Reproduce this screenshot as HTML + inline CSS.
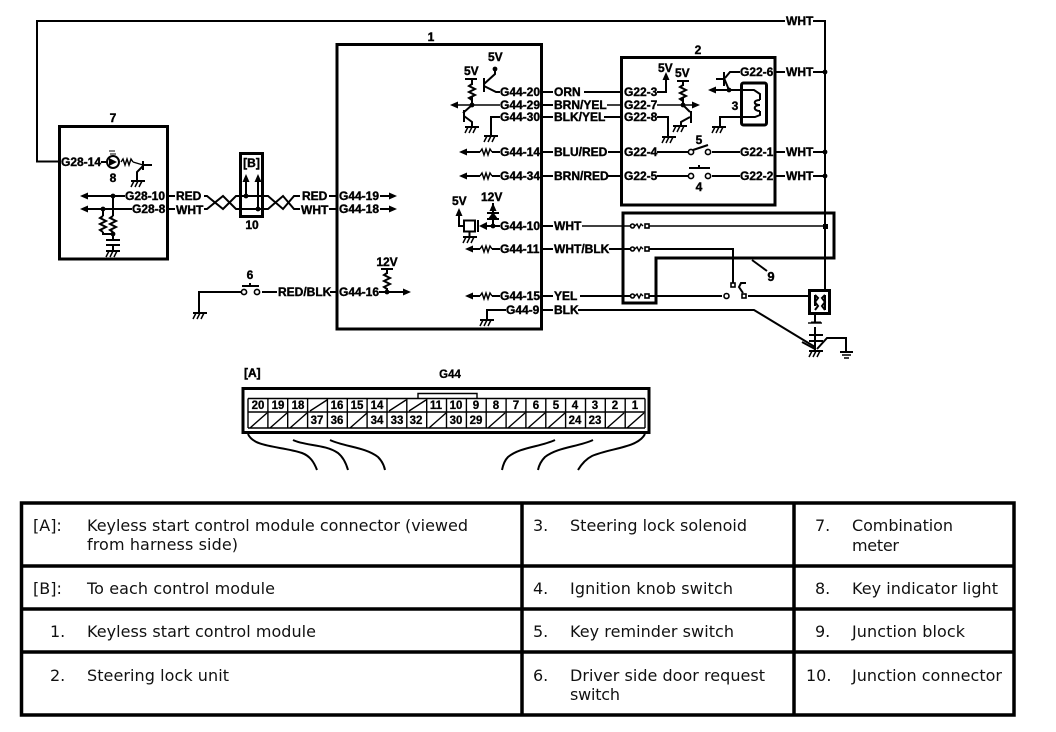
<!DOCTYPE html>
<html><head><meta charset="utf-8"><style>
html,body{margin:0;padding:0;background:#fff}
svg{display:block}
.t{font:bold 12px "Liberation Sans",sans-serif;fill:#000;stroke:#000;stroke-width:.4}
.s{font:bold 11.5px "Liberation Sans",sans-serif;fill:#000;stroke:#000;stroke-width:.3}
.d{font:16px "DejaVu Sans",sans-serif;fill:#111}
.w{fill:none;stroke:#000;stroke-width:2}
.n{fill:none;stroke:#000;stroke-width:1.4}
.b{fill:none;stroke:#000;stroke-width:3}
.o{fill:#fff;stroke:#000;stroke-width:1.6}
</style></head><body>
<svg width="1056" height="732" viewBox="0 0 1056 732" xmlns="http://www.w3.org/2000/svg">
<defs>
<g id="gnd" fill="none" stroke="#000" stroke-width="1.5"><path d="M-6 0H8" stroke-width="2"/><path d="M-3 0L-6 6M1 0L-2 6M5 0L2 6"/></g>
<polygon id="al" points="0,0 8,-3.5 8,3.5"/>
<polygon id="ar" points="0,0 -8,-3.5 -8,3.5"/>
<polygon id="au" points="0,0 -3.5,8 3.5,8"/>
<path id="rv" d="M0 0L-3 2L3 5L-3 8L3 11L-3 14L0 16" fill="none" stroke="#000" stroke-width="2"/>
<path id="rh" d="M0 0L2 -3L4 3L6 -3L8 3L10 -3L12 0" fill="none" stroke="#000" stroke-width="1.4"/>
<circle id="dot" r="2.4" fill="#000"/>
<path id="fl" d="M0 0L2 -2L4 2L6 -2L8 0" fill="none" stroke="#000" stroke-width="1.4"/>
</defs>

<!-- top WHT loop -->
<path class="w" d="M59 161.5H37V21H785M813 21H825V290"/>
<text class="t" x="786" y="25">WHT</text>

<!-- box 7 -->
<rect class="b" x="59.5" y="126.5" width="108" height="132.5"/>
<text class="t" x="113" y="122" text-anchor="middle">7</text>
<text class="t" x="61" y="166">G28-14</text>
<path class="w" d="M101 162H108"/>
<circle cx="113" cy="162" r="6" fill="none" stroke="#000" stroke-width="2"/>
<path d="M109 158L117 162L109 166Z" fill="#000"/>
<path d="M109 151L115 151M110 154L116 154" stroke="#000" stroke-width="1"/>
<use href="#rh" x="121" y="162"/>
<path class="n" d="M133 162L143 165"/>
<path class="w" d="M143 161V170M143 165H152M143 166L137 172V181"/>
<use href="#gnd" x="137" y="181"/>
<text class="t" x="113" y="182" text-anchor="middle">8</text>
<path class="w" d="M88 196H125M88 209H132"/>
<use href="#al" x="80" y="196"/><use href="#al" x="80" y="209"/>
<text class="t" x="125" y="200">G28-10</text>
<text class="t" x="132" y="213">G28-8</text>
<use href="#dot" x="113" y="196"/><use href="#dot" x="103" y="209"/>
<path class="w" d="M113 196V216M113 232V240M103 209V216M103 232V234H113"/>
<use href="#rv" x="113" y="216"/><use href="#rv" x="103" y="216"/>
<use href="#dot" x="113" y="234"/>
<path class="w" d="M106 240H120M106 245H120M113 245V251"/>
<use href="#gnd" x="112" y="251"/>

<path class="w" d="M168 196H175M168 209H175"/>
<text class="t" x="176" y="200">RED</text>
<text class="t" x="176" y="214">WHT</text>

<!-- twisted pair -->
<path class="w" stroke-width="1.6" d="M204 196H207L223 209L236 196H263M204 209H207L223 196L236 209H263"/>
<path class="w" stroke-width="1.6" d="M263 196H268L283 209L294 196H300M263 209H268L283 196L294 209H300"/>
<rect class="b" x="240.5" y="153.5" width="22" height="63"/>
<text class="t" x="251.500" y="167" text-anchor="middle">[B]</text>
<path class="w" d="M246 196V181M258 209V181"/>
<use href="#au" x="246" y="174"/><use href="#au" x="258" y="174"/>
<use href="#dot" x="246" y="196"/><use href="#dot" x="258" y="209"/>
<text class="t" x="252" y="229" text-anchor="middle">10</text>
<text class="t" x="302" y="200">RED</text>
<text class="t" x="301" y="214">WHT</text>
<path class="w" d="M329 196H337M329 209H337"/>

<!-- box 1 -->
<rect class="b" x="337" y="44.5" width="204.500" height="284.500"/>
<text class="t" x="431" y="41" text-anchor="middle">1</text>
<text class="t" x="339" y="200">G44-19</text>
<text class="t" x="339" y="213">G44-18</text>
<path class="w" d="M380 196H392M380 209H392"/>
<use href="#ar" x="397" y="196"/><use href="#ar" x="397" y="209"/>
<text class="t" x="339" y="296">G44-16</text>
<path class="w" d="M330 292H337M379 292H404"/>
<use href="#ar" x="411" y="292"/>
<use href="#dot" x="387" y="292"/>
<text class="t" x="387" y="266" text-anchor="middle">12V</text>
<path class="w" d="M381 269H393M387 269V274M387 288V292"/>
<use href="#rv" x="387" y="273"/>

<!-- switch 6 -->
<text class="t" x="250" y="279" text-anchor="middle">6</text>
<path class="w" d="M242 286H259M250 286V283M241 292H199V313M262 292H277"/>
<circle class="o" cx="244" cy="292" r="2.600"/><circle class="o" cx="257" cy="292" r="2.600"/>
<use href="#gnd" x="199" y="313"/>
<text class="t" x="278" y="296">RED/BLK</text>

<!-- box 1 internals top -->
<text class="t" x="488" y="61">5V</text>
<use href="#dot" x="495" y="69"/>
<path class="w" d="M495 68V74L484 84M484 78V92M484 86L496 92H500"/>
<text class="t" x="464" y="75">5V</text>
<path class="w" d="M465 79H477M472 79V85M472 97V104"/>
<use href="#rv" x="472" y="84"/>
<path class="n" d="M457 105H500"/>
<use href="#al" x="450" y="105"/>
<use href="#dot" x="472" y="105"/>
<path class="w" d="M472 105L463 113M464 110V122M464 116L472 122V127"/>
<use href="#gnd" x="471" y="127"/>
<path class="w" d="M500 117H491V136"/>
<use href="#gnd" x="490" y="136"/>

<text class="t" x="500" y="96">G44-20</text>
<text class="t" x="500" y="109">G44-29</text>
<text class="t" x="500" y="121">G44-30</text>
<text class="t" x="500" y="156">G44-14</text>
<text class="t" x="500" y="180">G44-34</text>
<text class="t" x="500" y="230">G44-10</text>
<text class="t" x="500" y="253">G44-11</text>
<text class="t" x="500" y="300">G44-15</text>
<text class="t" x="506" y="314">G44-9</text>

<path class="w" d="M466 152H480M492 152H500M466 176H480M492 176H500M472 249H480M492 249H500M472 296H480M492 296H500"/>
<use href="#al" x="459" y="152"/><use href="#al" x="459" y="176"/><use href="#al" x="465" y="249"/><use href="#al" x="465" y="296"/>
<use href="#rh" x="480" y="152"/><use href="#rh" x="480" y="176"/><use href="#rh" x="480" y="249"/><use href="#rh" x="480" y="296"/>

<!-- 5V/12V at G44-10 -->
<text class="t" x="452" y="205">5V</text>
<text class="t" x="481" y="201">12V</text>
<use href="#au" x="459" y="208"/>
<path class="w" d="M459 215V226H464"/>
<rect x="464" y="220.500" width="11" height="11" fill="none" stroke="#000" stroke-width="2"/>
<path class="w" d="M469.500 232V237M478 220V232"/>
<use href="#gnd" x="469" y="237"/>
<path d="M479 226L487 222V230Z" fill="#000"/>
<path class="w" d="M487 226H500M493 226V203M487 213H499M487 219H499"/>
<use href="#au" x="493" y="203"/>
<path d="M488 219L493 212L498 219Z" fill="#000"/>
<use href="#dot" x="493" y="226"/>

<path class="w" d="M506 310H487V320"/>
<use href="#gnd" x="486" y="320"/>

<!-- wires between -->
<path class="w" d="M541 92H553M541 105H553M541 117H553M541 152H553M541 176H553M541 226H553M541 249H553M541 296H553M541 310H553"/>
<text class="t" x="554" y="96">ORN</text>
<text class="t" x="554" y="109">BRN/YEL</text>
<text class="t" x="554" y="121">BLK/YEL</text>
<text class="t" x="554" y="156">BLU/RED</text>
<text class="t" x="554" y="180">BRN/RED</text>
<text class="t" x="554" y="230">WHT</text>
<text class="t" x="554" y="253">WHT/BLK</text>
<text class="t" x="554" y="300">YEL</text>
<text class="t" x="554" y="314">BLK</text>
<path class="w" d="M584 92H621M604 117H621M608 152H621M608 176H621M609 249H631M580 296H631M578 310H754L815 347"/>
<path class="n" d="M607 105H621M582 226H631M648 226H825"/>

<!-- box 2 -->
<rect class="b" x="621.500" y="57.500" width="153.500" height="147.500"/>
<text class="t" x="698" y="54" text-anchor="middle">2</text>
<text class="t" x="624" y="96">G22-3</text>
<text class="t" x="624" y="109">G22-7</text>
<text class="t" x="624" y="121">G22-8</text>
<text class="t" x="624" y="156">G22-4</text>
<text class="t" x="624" y="180">G22-5</text>
<text class="t" x="740" y="76">G22-6</text>
<text class="t" x="740" y="156">G22-1</text>
<text class="t" x="740" y="180">G22-2</text>
<text class="t" x="658" y="72">5V</text>
<text class="t" x="675" y="77">5V</text>
<path class="w" d="M657 92H666V79"/>
<use href="#au" x="666" y="72"/>
<path class="w" d="M657 117H668V136"/>
<use href="#gnd" x="668" y="137"/>
<path class="w" d="M677 81H689M683 81V86M683 98V105"/>
<use href="#rv" x="683" y="85"/>
<path class="n" d="M657 105H693"/>
<use href="#ar" x="700" y="105"/>
<use href="#dot" x="683" y="105"/>
<path class="w" d="M683 105L690 112M691 111V123M690 117L681 122V125"/>
<use href="#gnd" x="679" y="126"/>
<path class="w" d="M740 72H730L725 78M716 79H725M724 72V86M724 78L729 90"/>
<path class="w" d="M715 90H741"/>
<use href="#al" x="708" y="90"/>
<use href="#dot" x="729" y="90"/>
<rect x="741.500" y="83" width="25" height="42" rx="2" fill="none" stroke="#000" stroke-width="3"/>
<path class="w" d="M742 90H754L760 94V100M760 111V115L755 117H720V126" stroke-width="1.800"/>
<path class="w" d="M760 100C753 100 753 105 760 105C753 105 753 111 760 111"/>
<use href="#gnd" x="718" y="127"/>
<text class="t" x="735" y="110" text-anchor="middle">3</text>
<text class="t" x="699" y="144" text-anchor="middle">5</text>
<text class="t" x="699" y="191" text-anchor="middle">4</text>
<path class="w" d="M657 152H689M657 176H689M712 152H740M712 176H740"/>
<path class="w" d="M693 150L708 145M689 168H710M699 168V165"/>
<circle class="o" cx="691" cy="152" r="2.600"/><circle class="o" cx="708" cy="152" r="2.600"/>
<circle class="o" cx="691" cy="176" r="2.600"/><circle class="o" cx="708" cy="176" r="2.600"/>

<path class="w" d="M774 72H785M813 72H825M774 152H785M813 152H825M774 176H785M813 176H825"/>
<text class="t" x="786" y="76">WHT</text>
<text class="t" x="786" y="156">WHT</text>
<text class="t" x="786" y="180">WHT</text>
<use href="#dot" x="825" y="72"/><use href="#dot" x="825" y="152"/><use href="#dot" x="825" y="176"/>

<!-- box 9 -->
<path class="b" stroke-width="3.500" d="M623 213H834V258H656V303H623Z"/>
<rect x="823" y="224" width="5" height="5" fill="#000"/>
<use href="#fl" x="635" y="226"/><use href="#fl" x="635" y="249"/><use href="#fl" x="635" y="296"/>
<circle class="o" cx="632.500" cy="226" r="2"/><rect class="o" x="645" y="224" width="4" height="4"/>
<circle class="o" cx="632.500" cy="249" r="2"/><rect class="o" x="645" y="247" width="4" height="4"/>
<circle class="o" cx="632.500" cy="296" r="2"/><rect class="o" x="645" y="294" width="4" height="4"/>
<path class="w" d="M649 249H733V283M649 296H722M748 296H809"/>
<rect class="o" x="731" y="283" width="4" height="4"/>
<circle class="o" cx="726.500" cy="296" r="2.500"/><rect class="o" x="742" y="294" width="4" height="4"/>
<path class="w" d="M746 283H741L739 287L743 293"/>
<path class="w" d="M752 260L767 271"/>
<text class="t" x="771" y="281" text-anchor="middle" style="font-size:13px">9</text>

<!-- fuse -->
<rect x="809.500" y="290.500" width="20" height="23" fill="none" stroke="#000" stroke-width="3"/>
<path class="w" d="M815 295L818 298L815 302L818 306L815 310M825 295L822 298L825 302L822 306L825 310" stroke-width="1.800"/>
<path class="w" d="M815 295V306M825 295V310" stroke-width="1.200"/>
<path class="w" d="M815 314V323M811 322.500H821M815 327V335M809 335H823M815 335V341M809 341H823M815 341V351"/>
<path class="n" d="M808 323H822"/>
<path class="w" d="M817 349L827 338H846V352"/>
<path class="w" d="M802 342L815 349"/>
<use href="#gnd" x="815" y="351"/>
<path class="w" d="M840 352H853"/><path class="n" d="M842 355H851M844 358H849"/>

<!-- connector A -->
<text class="t" x="244" y="377">[A]</text>
<text class="s" x="450" y="378" text-anchor="middle">G44</text>
<rect class="b" x="243" y="388.500" width="406" height="44"/>
<path class="n" d="M418 399V393.500H477V399"/>
<path class="n" d="M248 398.500H645M248 412H645M248 428H645"/>
<path class="n" d="M248 398.500V428M645 398.500V428M267.900 398.500V428M287.700 398.500V428M307.600 398.500V428M327.400 398.500V428M347.300 398.500V428M367.100 398.500V428M387 398.500V428M406.800 398.500V428M426.700 398.500V428M446.500 398.500V428M466.400 398.500V428M486.200 398.500V428M506.100 398.500V428M525.900 398.500V428M545.800 398.500V428M565.600 398.500V428M585.500 398.500V428M605.300 398.500V428M625.200 398.500V428"/>
<path class="n" d="M310 411L327 400M389 411L406 400M409 411L426 400M250 428L267 413M270 428L287 413M290 428L307 413M350 428L367 413M429 428L446 413M488 428L505 413M508 428L525 413M528 428L545 413M548 428L565 413M627 428L644 413M607 428L624 413"/>
<g class="s" text-anchor="middle">
<text x="258" y="409">20</text><text x="278" y="409">19</text><text x="298" y="409">18</text><text x="337" y="409">16</text><text x="357" y="409">15</text><text x="377" y="409">14</text>
<text x="436" y="409">11</text><text x="456" y="409">10</text><text x="476" y="409">9</text><text x="496" y="409">8</text><text x="516" y="409">7</text><text x="536" y="409">6</text><text x="556" y="409">5</text><text x="575" y="409">4</text><text x="595" y="409">3</text><text x="615" y="409">2</text><text x="635" y="409">1</text>
<text x="317" y="424">37</text><text x="337" y="424">36</text><text x="377" y="424">34</text><text x="397" y="424">33</text><text x="416" y="424">32</text><text x="456" y="424">30</text><text x="476" y="424">29</text><text x="575" y="424">24</text><text x="595" y="424">23</text>
</g>
<path class="w" d="M248 434C254 448 282 446 302 453C310 456 314 462 317 470M293 440C305 446 325 444 338 453C343 457 346 463 348 470M330 440C345 447 365 447 378 457C381 460 384 465 385 470M555 440C540 447 520 447 508 457C505 460 503 465 502 470M593 440C578 447 558 447 545 457C542 460 539 465 538 470M645 434C638 448 610 448 592 456C586 459 581 465 578 470"/>

<!-- table -->
<path d="M21.500 503H1014V715H21.500ZM522 503V715M794 503V715M21.500 566H1014M21.500 609H1014M21.500 652H1014" fill="none" stroke="#000" stroke-width="3.500"/>
<g class="d">
<text x="33" y="531">[A]:</text><text x="87" y="531" textLength="381">Keyless start control module connector (viewed</text>
<text x="87" y="550" textLength="151">from harness side)</text>
<text x="33" y="594">[B]:</text><text x="87" y="594" textLength="188">To each control module</text>
<text x="50" y="637">1.</text><text x="87" y="637" textLength="229">Keyless start control module</text>
<text x="50" y="681">2.</text><text x="87" y="681" textLength="142">Steering lock unit</text>
<text x="533" y="531">3.</text><text x="570" y="531" textLength="177">Steering lock solenoid</text>
<text x="533" y="594">4.</text><text x="570" y="594" textLength="163">Ignition knob switch</text>
<text x="533" y="637">5.</text><text x="570" y="637" textLength="164">Key reminder switch</text>
<text x="533" y="681">6.</text><text x="570" y="681" textLength="195">Driver side door request</text>
<text x="570" y="700" textLength="50">switch</text>
<text x="815" y="531">7.</text><text x="852" y="531" textLength="101">Combination</text>
<text x="852" y="551" textLength="47">meter</text>
<text x="815" y="594">8.</text><text x="852" y="594" textLength="146">Key indicator light</text>
<text x="815" y="637">9.</text><text x="852" y="637" textLength="113">Junction block</text>
<text x="806" y="681">10.</text><text x="852" y="681" textLength="150">Junction connector</text>
</g>
</svg>
</body></html>
